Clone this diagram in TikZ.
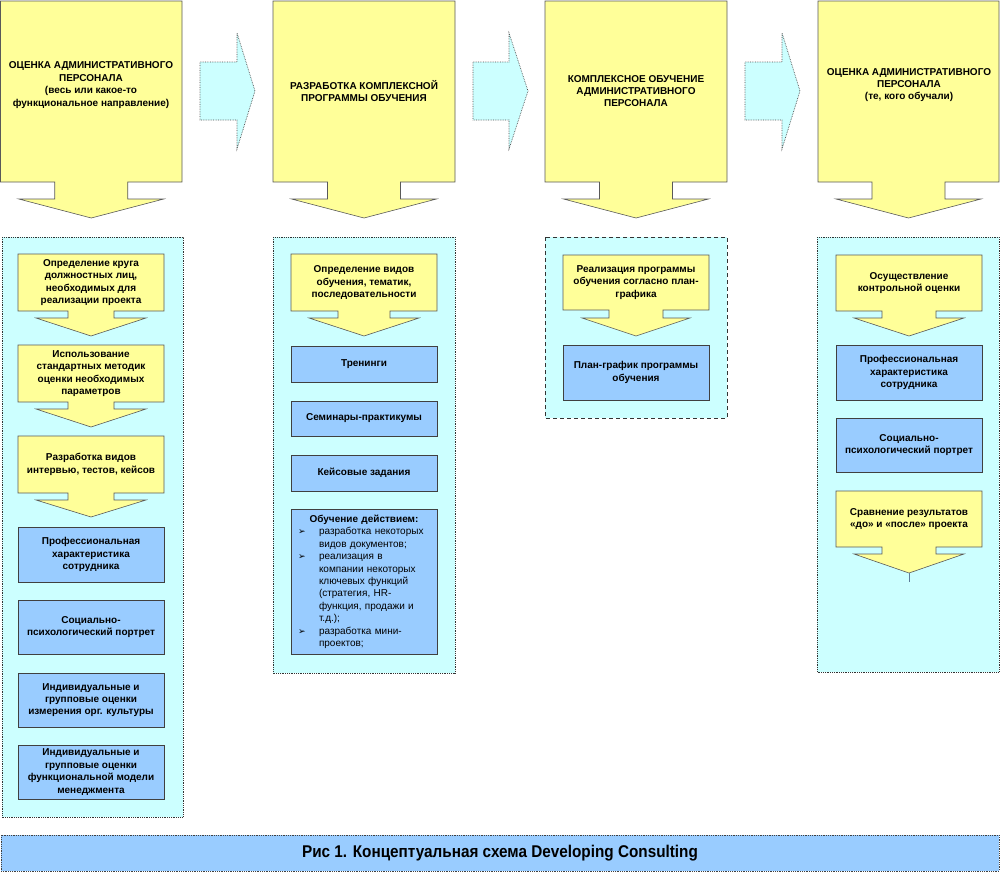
\documentclass[tikz,border=0pt]{standalone}
\usepackage{fontspec}
\setmainfont{Liberation Sans}
\newfontfamily\symfont{DejaVu Sans}
\newfontfamily\capfont[FakeStretch=0.9]{Liberation Sans}
\usetikzlibrary{calc}
\definecolor{lightyellow}{HTML}{FFFF99}
\definecolor{lightcyan}{HTML}{CCFFFF}
\definecolor{paleblue}{HTML}{99CCFF}
\tikzset{
	yellowbox/.style={fill=lightyellow, draw=black!65, line width=0.6pt},
	bluebox/.style={fill=paleblue, draw=black!75, line width=0.6pt, minimum width=146pt, align=center, inner sep=0pt, font=\fontsize{10}{12.4}\selectfont\bfseries},
	panel/.style={fill=lightcyan, draw=black!80, line width=0.8pt, densely dotted},
	flow/.style={fill=lightcyan, draw=black!70, line width=0.7pt, densely dotted},
	txt/.style={align=center, font=\fontsize{10}{12.4}\selectfont\bfseries},
}
% body x1:y1:x2:y2, stem half width : stem bottom : head half width : tip
\def\callout(#1:#2:#3:#4)(#5:#6:#7:#8){\draw[yellowbox] (#1,#2) -- (#3,#2) -- (#3,#4) -- ({(#1+#3)/2+#5},#4) -- ({(#1+#3)/2+#5},#6) -- ({(#1+#3)/2+#7},#6) -- ({(#1+#3)/2},#8) -- ({(#1+#3)/2-#7},#6) -- ({(#1+#3)/2-#5},#6) -- ({(#1+#3)/2-#5},#4) -- (#1,#4) -- cycle;}
\def\flowarrow(#1:#2:#3){\draw[flow] (#1,62) -- (#2,62) -- (#2,33) -- (#3,91) -- (#2,149) -- (#2,120) -- (#1,120) -- cycle;}
\newcommand\bul{\hspace*{2pt}\makebox[21pt][l]{\symfont\fontsize{9}{9}\selectfont ➢}}
\newcommand\bulind{\hspace*{23pt}}

\begin{document}
\begin{tikzpicture}[x=1pt, y=-1pt]
		%%%%% START %%%%%
		\useasboundingbox (0,0) rectangle (1000,873);
		
		% top row
		\callout(0.5:1:182:182)(36.5:199:72.5:218);
		\callout(273:1:455:182)(36.5:199:72.5:218);
		\callout(545:1:727:182)(36.5:199:72.5:218);
		\callout(818:1:999:182)(36.5:199:72.5:218);
		\node[txt] (top1) at (91,85) {ОЦЕНКА АДМИНИСТРАТИВНОГО\\ПЕРСОНАЛА\\(весь или какое-то\\функциональное направление)};
		\node[txt] (top2) at (364,91) {РАЗРАБОТКА КОМПЛЕКСНОЙ\\ПРОГРАММЫ ОБУЧЕНИЯ};
		\node[txt] (top3) at (636,91) {КОМПЛЕКСНОЕ ОБУЧЕНИЕ\\АДМИНИСТРАТИВНОГО\\ПЕРСОНАЛА};
		\node[txt] (top4) at (909,85) {ОЦЕНКА АДМИНИСТРАТИВНОГО\\ПЕРСОНАЛА\\(те, кого обучали)};
		
		\flowarrow(200:237:255);
		\flowarrow(473:509:528);
		\flowarrow(745:782:800);
		
		% panels
		\draw[panel] (2,237) rectangle (183,817);
		\draw[panel] (273,237) rectangle (455,673);
		\draw[panel, dash pattern=on 4pt off 3pt] (545,237) rectangle (727,418);
		\draw[panel] (817,237) rectangle (999,672);
		
		% column 1
		\callout(18:254:164:311)(23:318:55:336);
		\node[txt] (def1) at (91,282.5) {Определение круга\\должностных лиц,\\необходимых для\\реализации проекта};
		\callout(18:345:164:402)(23:409:55:427);
		\node[txt] (meth1) at (91,373.5) {Использование\\стандартных методик\\оценки необходимых\\параметров};
		\callout(18:436:164:493)(23:500:55:517);
		\node[txt] (dev1) at (91,464.5) {Разработка видов\\интервью, тестов, кейсов};
		\node[bluebox, minimum height=55pt] (prof1) at (91,554.5) {Профессиональная\\характеристика\\сотрудника};
		\node[bluebox, minimum height=54pt] (soc1) at (91,627) {Социально-\\психологический портрет};
		\node[bluebox, minimum height=54pt] (cult1) at (91,700) {Индивидуальные и\\групповые оценки\\измерения орг. культуры};
		\node[bluebox, minimum height=54pt] (mgmt1) at (91,772) {Индивидуальные и\\групповые оценки\\функциональной модели\\менеджмента};
		
		% column 2
		\callout(291:254:437:311)(26:318:55:336);
		\node[txt] (def2) at (364,282.5) {Определение видов\\обучения, тематик,\\последовательности};
		\node[bluebox, minimum height=36pt] (train2) at (364,364) {Тренинги};
		\node[bluebox, minimum height=35pt] (semin2) at (364,418.5) {Семинары-практикумы};
		\node[bluebox, minimum height=36pt] (cases2) at (364,473) {Кейсовые задания};
		\node[bluebox, anchor=north, minimum height=145pt, text width=136pt, inner xsep=5pt, inner ysep=4pt, align=left, font=\fontsize{10}{12.4}\selectfont] (action2) at (364,509) {{\centering\bfseries Обучение действием:\par}
			\bul разработка некоторых\\
			\bulind видов документов;\\
			\bul реализация в\\
			\bulind компании некоторых\\
			\bulind ключевых функций\\
			\bulind (стратегия, HR-\\
			\bulind функция, продажи и\\
			\bulind т.д.);\\
			\bul разработка мини-\\
			\bulind проектов;};
		
		% column 3
		\callout(563:255:709:310)(27:318:54:336);
		\node[txt] (real3) at (636,282.5) {Реализация программы\\обучения согласно план-\\графика};
		\node[bluebox, minimum height=55pt] (plan3) at (636,372.5) {План-график программы\\обучения};
		
		% column 4
		\callout(836:255:982:311)(27:318:55:336);
		\node[txt] (ctrl4) at (909,283) {Осуществление\\контрольной оценки};
		\node[bluebox, minimum height=55pt] (prof4) at (909,372.5) {Профессиональная\\характеристика\\сотрудника};
		\node[bluebox, minimum height=54pt] (soc4) at (909,445) {Социально-\\психологический портрет};
		\callout(836:491:982:547)(27:554:55:573);
		\node[txt] (comp4) at (909,519) {Сравнение результатов\\«до» и «после» проекта};
		\draw[paleblue!60!black, line width=0.5pt] (909,573) -- (909,582);
		
		% caption
		\node[fill=paleblue, draw=black!75, densely dotted, line width=0.8pt, minimum width=998pt, minimum height=36pt, inner sep=0pt] (caption) at (500,853) {};
		\node[font=\capfont\fontsize{17}{19}\selectfont\bfseries] (captext) at (caption.center) {Рис 1. Концептуальная схема Developing Consulting};
		%%%%% END %%%%%
\end{tikzpicture}
\end{document}
